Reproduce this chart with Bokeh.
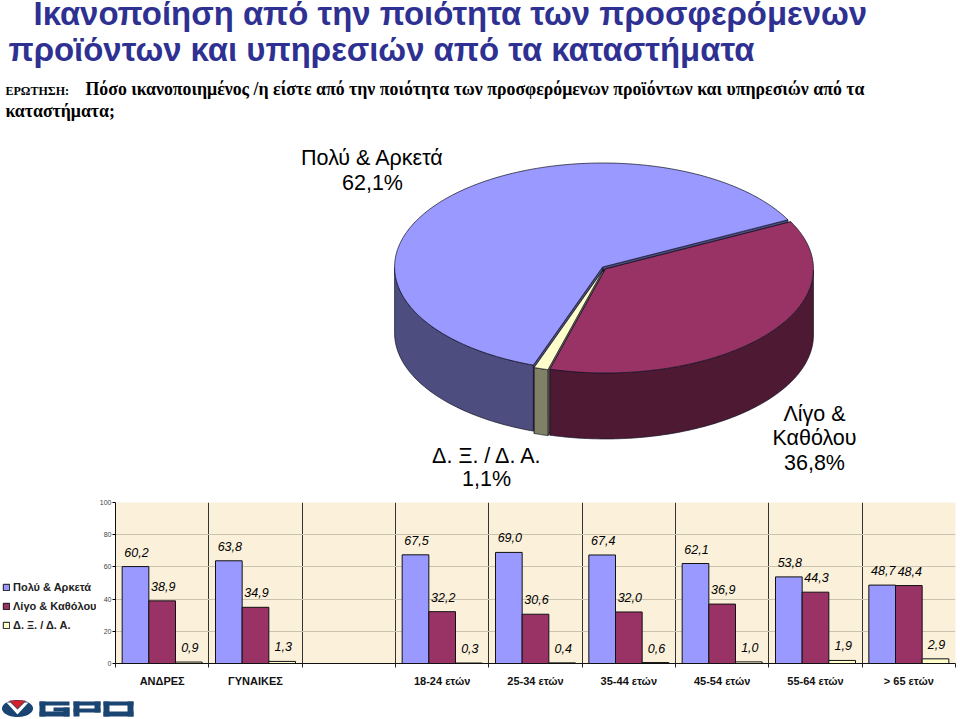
import numpy as np
from bokeh.core.properties import value
from bokeh.embed import file_html
from bokeh.layouts import column, row
from bokeh.models import (ColumnDataSource, FixedTicker, Label, Legend, LegendItem, Range1d)
from bokeh.plotting import figure
from bokeh.resources import INLINE

# ---- data ----
title_lines = ["Ικανοποίηση από την ποιότητα των προσφερόμενων",
               "προϊόντων και υπηρεσιών από τα καταστήματα"]
question_head = "ΕΡΩΤΗΣΗ:"
question_lines = ["Πόσο ικανοποιημένος /η είστε από την ποιότητα των προσφερόμενων προϊόντων και υπηρεσιών από τα",
                  "καταστήματα;"]
pie_names = ["Πολύ & Αρκετά", "Δ. Ξ. / Δ. Α.", "Λίγο & Καθόλου"]
pie_shares = [62.1, 1.1, 36.8]
categories = ["ΑΝΔΡΕΣ", "ΓΥΝΑΙΚΕΣ", "", "18-24 ετών", "25-34 ετών", "35-44 ετών",
              "45-54 ετών", "55-64 ετών", "> 65 ετών"]
very_quite = [60.2, 63.8, None, 67.5, 69.0, 67.4, 62.1, 53.8, 48.7]
little_none = [38.9, 34.9, None, 32.2, 30.6, 32.0, 36.9, 44.3, 48.4]
dk_na = [0.9, 1.3, None, 0.3, 0.4, 0.6, 1.0, 1.9, 2.9]
y_ticks = [0, 20, 40, 60, 80, 100]

# ---- styles ----
W, H_TOP, H_MID, H_LOGO = 960, 492, 205, 22
PANEL = 96
FACE = ["#9999FF", "#FFFFCC", "#993366"]
SIDE = ["#4D4D80", "#808066", "#4D1933"]
SANS = "Liberation Sans"
SERIF = "Liberation Serif"
NAVY = "#2F3192"


def blank(width, height, xr, yr):
    f = figure(width=width, height=height, output_backend="svg", toolbar_location=None,
               x_range=Range1d(*xr), y_range=Range1d(*yr), x_axis_location=None, y_axis_location=None,
               min_border=0, outline_line_color=None, background_fill_color="white",
               border_fill_color="white")
    f.grid.visible = False
    return f


# ---- top: titles and pie ----
cx, cy, rx, ry, depth_px = 603.5, 267.5, 208.0, 104.0, 66.0
depth = depth_px / ry
top = blank(W, H_TOP, (-cx / rx, (W - cx) / rx), (-(H_TOP - cy) / ry, cy / ry))


def txt(x, y, s, size, color="black", style="normal", font=SANS, align="left"):
    top.add_layout(Label(x=x, y=H_TOP - y + 0.37 * size, x_units="screen", y_units="screen", text=s,
                         text_font=font, text_font_size=f"{size}px", text_color=color,
                         text_font_style=style, text_align=align, text_baseline="alphabetic"))


txt(33, 25, title_lines[0], 32.9, NAVY, "bold")
txt(8, 61, title_lines[1], 32.9, NAVY, "bold")
txt(5, 95, question_head, 12, "black", "bold", SERIF)
txt(85, 95, question_lines[0], 17.8, "black", "bold", SERIF)
txt(5, 117, question_lines[1], 17.8, "black", "bold", SERIF)

start_deg = 27.0
edges = start_deg + 360 * np.cumsum([0] + pie_shares) / sum(pie_shares)
EXPLODE = 0.009
for i in range(3):
    a0, a1 = np.radians(edges[i]), np.radians(edges[i + 1])
    mid = (a0 + a1) / 2
    ox, oy = EXPLODE * np.cos(mid), 1.6 * EXPLODE * np.sin(mid)
    t = np.linspace(a0, a1, 160)
    ax, ay = np.cos(t) + ox, np.sin(t) + oy
    for e in (a0, a1):
        ex, ey = np.cos(e) + ox, np.sin(e) + oy
        top.patch([ox, ex, ex, ox], [oy, ey, ey - depth, oy - depth],
                  fill_color=SIDE[i], line_color="#111122", line_width=0.7)
    vis = np.sin(t) <= 0
    if vis.any():
        sx, sy = ax[vis], ay[vis]
        top.patch(np.r_[sx, sx[::-1]], np.r_[sy, sy[::-1] - depth],
                  fill_color=SIDE[i], line_color="#111122", line_width=0.7)
    top.patch(np.r_[ox, ax], np.r_[oy, ay], fill_color=FACE[i], line_color="#111122", line_width=0.7)

pct = [f"{v:.1f}%".replace(".", ",") for v in pie_shares]
txt(372, 165, pie_names[0], 21.5, align="center")
txt(372, 190, pct[0], 21.5, align="center")
txt(487, 463, pie_names[1], 21.5, align="center")
txt(486, 486, pct[1], 21.5, align="center")
txt(814, 421, "Λίγο &", 21.5, align="center")
txt(814, 445, "Καθόλου", 21.5, align="center")
txt(814, 470, pct[2], 21.5, align="center")

# ---- bars ----
bot = figure(width=W - PANEL, height=H_MID, output_backend="svg", toolbar_location=None,
             x_range=Range1d(0, len(categories)), y_range=Range1d(0, 100),
             min_border_left=115 - PANEL, min_border_right=5, min_border_top=10, min_border_bottom=34,
             background_fill_color="#FBF1DB", border_fill_color="white", outline_line_color=None)

slots = [i + 0.5 for i in range(len(categories))]
xax = bot.xaxis[0]
xax.ticker = FixedTicker(ticks=slots, minor_ticks=list(range(len(categories) + 1)))
xax.major_label_overrides = {s: c for s, c in zip(slots, categories)}
xax.major_tick_line_color = None
xax.minor_tick_line_color = "#222222"
xax.minor_tick_out = 4
xax.minor_tick_in = 0
xax.axis_line_color = "#111111"
xax.major_label_text_font = SANS
xax.major_label_text_font_size = "11px"
xax.major_label_text_font_style = "bold"
xax.major_label_text_color = "#111111"
xax.major_label_standoff = 5

yax = bot.yaxis[0]
yax.ticker = FixedTicker(ticks=y_ticks)
yax.minor_tick_line_color = None
yax.major_tick_in = 0
yax.major_tick_out = 3
yax.axis_line_color = "#111111"
yax.major_label_text_font = SANS
yax.major_label_text_font_size = "7px"
yax.major_label_text_color = "#444444"
yax.major_label_standoff = 1

bot.xgrid.ticker = FixedTicker(ticks=list(range(len(categories) + 1)))
bot.xgrid.grid_line_color = "#333333"
bot.xgrid.grid_line_width = 1
bot.ygrid.ticker = FixedTicker(ticks=y_ticks[1:])
bot.ygrid.grid_line_color = "#C9C2AE"
bot.ygrid.grid_line_width = 1

BAR_W = 0.2857
series = [(very_quite, FACE[0], -1), (little_none, FACE[2], 0), (dk_na, FACE[1], 1)]
for vals, color, k in series:
    rows = [(i + 0.5 + k * BAR_W, v) for i, v in enumerate(vals) if v is not None]
    xs, ys = zip(*rows)
    src = ColumnDataSource(dict(x=xs, y=ys, t=[f"{v:.1f}".replace(".", ",") for v in ys]))
    bot.vbar(x="x", top="y", bottom=0, width=BAR_W, source=src,
             fill_color=color, line_color="#111111", line_width=1)
    bot.text(x="x", y="y", text="t", source=src, x_offset=1, y_offset=-14.5,
             text_font=value(SANS), text_font_style="italic", text_font_size="12.5px",
             text_color="black", text_align="center", text_baseline="middle")

# ---- legend panel, to the left of the bars ----
panel = blank(PANEL, H_MID, (0, 1), (0, 1))
entries = []
for name, (_, color, _) in zip([pie_names[0], pie_names[2], pie_names[1]], series):
    r = panel.quad(left=[-2], right=[-1], bottom=[-2], top=[-1], fill_color=color, line_color="#111111")
    entries.append(LegendItem(label=value(name), renderers=[r]))
panel.add_layout(Legend(items=entries, location=(2, 32), background_fill_alpha=0, border_line_color=None,
                        padding=0, margin=0, spacing=6, glyph_width=8, glyph_height=8, label_height=13,
                        label_standoff=3, label_text_font=SANS, label_text_font_size="11px",
                        label_text_font_style="bold", label_text_color="#222222",
                        label_text_line_height=1.0))

# ---- GPO logo, a picture in the original ----
LOGO = "#1A4573"
logo = blank(W, H_LOGO, (0, W), (719, 697))
a = np.linspace(0, 2 * np.pi, 60)
logo.patch(17 + 15.5 * np.cos(a), 708 + 8.5 * np.sin(a), fill_color=LOGO, line_color=None)
logo.patch([6, 17, 28, 24, 17, 10], [702, 714, 702, 702, 709, 702], fill_color="white", line_color=None)
logo.patch([9, 17, 25], [700, 708, 700], fill_color="#D2232A", line_color=None)
logo_l = [39, 39, 39, 63, 53, 73, 73, 94, 73, 103, 103, 103, 127]
logo_t = [701, 701, 711, 707, 707, 701, 701, 701, 708, 701, 711, 701, 701]
logo_r = [69, 45, 69, 69, 69, 100, 79, 100, 100, 133, 133, 109, 133]
logo_b = [705, 716, 716, 716, 711, 705, 716, 712, 712, 705, 716, 716, 716]
logo.quad(left=logo_l, right=logo_r, top=logo_t, bottom=logo_b, fill_color=LOGO, line_color=None)

page = column(top, row(panel, bot, spacing=0), logo, spacing=0)
open("out.html", "w").write(file_html(page, INLINE))
